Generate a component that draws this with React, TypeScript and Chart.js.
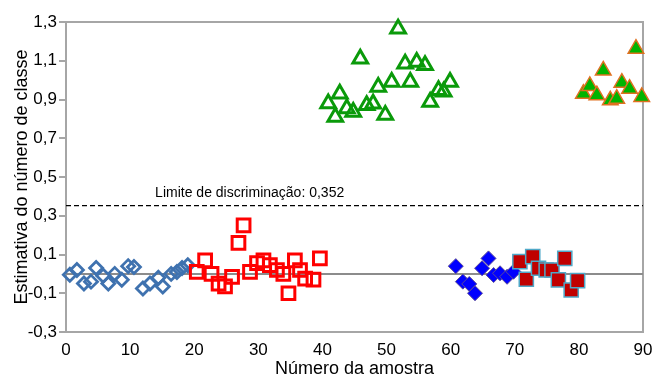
import React, { useEffect, useRef } from "react";
import { Chart, registerables } from "chart.js";

Chart.register(...registerables);

// ---- data ----
const xTickRange = [0, 90];
const yTickRange = [-0.3, 1.3];
const discriminationLimit = 0.352;
const limitLabel = "Limite de discriminação: 0,352";
const limitLabelX = 13.9;

const openDiamondX = [0.6, 1.7, 2.8, 3.9, 4.7, 5.8, 6.6, 7.6, 8.7, 9.7, 10.6, 12.0, 13.1, 14.4, 15.1, 16.4, 17.3, 18.1, 19.0];
const openDiamondY = [-0.005, 0.02, -0.05, -0.04, 0.03, -0.01, -0.05, 0.0, -0.03, 0.04, 0.035, -0.075, -0.05, -0.02, -0.065, 0.0, 0.01, 0.03, 0.045];

const openSquareX = [20.4, 21.7, 22.7, 23.8, 24.8, 25.9, 26.9, 27.7, 28.7, 29.8, 30.8, 31.8, 32.9, 33.9, 34.7, 35.7, 36.5, 37.3, 38.6, 39.6];
const openSquareY = [0.01, 0.07, 0.0, -0.05, -0.065, -0.015, 0.16, 0.25, 0.01, 0.055, 0.07, 0.045, 0.02, 0.0, -0.1, 0.07, 0.02, -0.025, -0.03, 0.08];

const openTriangleX = [40.9, 42.0, 42.7, 43.8, 44.8, 45.9, 46.9, 47.9, 48.7, 49.8, 50.8, 51.8, 52.9, 53.7, 54.7, 56.0, 56.8, 58.1, 58.9, 59.9];
const openTriangleY = [0.88, 0.81, 0.93, 0.853, 0.836, 1.11, 0.87, 0.878, 0.965, 0.82, 0.99, 1.265, 1.085, 0.99, 1.094, 1.077, 0.887, 0.948, 0.94, 0.99];

const filledDiamondX = [60.8, 61.9, 62.9, 63.8, 64.9, 65.9, 66.7, 67.7, 68.8, 69.8];
const filledDiamondY = [0.04, -0.04, -0.052, -0.1, 0.029, 0.08, -0.006, 0.003, -0.015, 0.011];

const filledSquareX = [70.8, 71.8, 72.8, 73.7, 74.9, 75.8, 76.8, 77.8, 78.8, 79.8];
const filledSquareY = [0.063, -0.028, 0.089, 0.029, 0.02, 0.02, -0.031, 0.08, -0.083, -0.035];

const filledTriangleX = [80.7, 81.7, 82.8, 83.8, 84.9, 85.9, 86.7, 87.9, 88.9, 89.8];
const filledTriangleY = [0.93, 0.97, 0.922, 1.05, 0.896, 0.904, 0.987, 0.956, 1.162, 0.913];

const xTitle = "Número da amostra";
const yTitle = "Estimativa do número de classe";

const FONT = "'Liberation Sans', Arial, sans-serif";

const zip = (xs: number[], ys: number[]) => xs.map((x, i) => ({ x, y: ys[i] }));

export default function App() {
  const ref = useRef<HTMLCanvasElement | null>(null);

  useEffect(() => {
    document.body.style.margin = "0";
    const canvas = ref.current;
    if (!canvas) return;

    const framePlugin = {
      id: "frame",
      beforeDatasetsDraw(chart: any) {
        const { ctx, chartArea } = chart;
        ctx.save();
        ctx.strokeStyle = "#a6a6a6";
        ctx.lineWidth = 2;
        ctx.strokeRect(chartArea.left, chartArea.top, chartArea.right - chartArea.left, chartArea.bottom - chartArea.top);
        ctx.restore();
      },
      afterDatasetsDraw(chart: any) {
        const { ctx, scales, chartArea } = chart;
        const px = scales.x.getPixelForValue(limitLabelX);
        const py = scales.y.getPixelForValue(discriminationLimit);
        ctx.save();
        ctx.fillStyle = "#000";
        ctx.font = `14px ${FONT}`;
        ctx.textAlign = "left";
        ctx.textBaseline = "alphabetic";
        ctx.fillText(limitLabel, px, py - 9);
        // x-axis title
        ctx.font = `18px ${FONT}`;
        ctx.textAlign = "center";
        ctx.textBaseline = "alphabetic";
        ctx.fillText(xTitle, (chartArea.left + chartArea.right) / 2, chartArea.bottom + 42);
        ctx.restore();
      },
    };

    const chart = new Chart(canvas, {
      type: "scatter",
      data: {
        datasets: [
          {
            type: "line",
            data: zip(xTickRange, [0, 0]),
            borderColor: "#8c8c8c",
            borderWidth: 2,
            pointRadius: 0,
            order: 100,
            clip: false,
          } as any,
          {
            type: "line",
            data: zip(xTickRange, [discriminationLimit, discriminationLimit]),
            borderColor: "#000",
            borderWidth: 1.2,
            borderDash: [5, 3],
            pointRadius: 0,
            order: 99,
          } as any,
          {
            data: zip(openDiamondX, openDiamondY),
            pointStyle: "rectRot",
            pointRadius: 6.5,
            pointBorderWidth: 2.8,
            borderColor: "#3f72af",
            backgroundColor: "rgba(255,255,255,0)",
            order: 6,
            clip: false,
          } as any,
          {
            data: zip(openSquareX, openSquareY),
            pointStyle: "rect",
            pointRadius: 9,
            pointBorderWidth: 3,
            borderColor: "#ff0000",
            backgroundColor: "rgba(255,255,255,0)",
            order: 5,
            clip: false,
          } as any,
          {
            data: zip(openTriangleX, openTriangleY),
            pointStyle: "triangle",
            pointRadius: 8.5,
            pointBorderWidth: 3,
            borderColor: "#0a9a0a",
            backgroundColor: "rgba(255,255,255,0)",
            order: 4,
            clip: false,
          } as any,
          {
            data: zip(filledDiamondX, filledDiamondY),
            pointStyle: "rectRot",
            pointRadius: 7.5,
            pointBorderWidth: 1,
            borderColor: "#5a4a9a",
            backgroundColor: "#0000ff",
            order: 3,
            clip: false,
          } as any,
          {
            data: zip(filledSquareX, filledSquareY),
            pointStyle: "rect",
            pointRadius: 10,
            pointBorderWidth: 1.5,
            borderColor: "#4fa8c8",
            backgroundColor: "#c00000",
            order: 2,
            clip: false,
          } as any,
          {
            data: zip(filledTriangleX, filledTriangleY),
            pointStyle: "triangle",
            pointRadius: 9,
            pointBorderWidth: 1.5,
            borderColor: "#e07020",
            backgroundColor: "#00b400",
            order: 1,
            clip: false,
          } as any,
        ],
      },
      options: {
        animation: false,
        responsive: true,
        maintainAspectRatio: false,
        layout: { autoPadding: false, padding: { top: 22, right: 14, left: 0, bottom: 0 } },
        plugins: { legend: { display: false }, tooltip: { enabled: false } },
        scales: {
          x: {
            type: "linear",
            min: xTickRange[0],
            max: xTickRange[1],
            afterFit(scale: any) {
              scale.height = 43;
              scale.paddingLeft = 0;
              scale.paddingRight = 0;
            },
            ticks: {
              stepSize: 10,
              color: "#000",
              font: { family: FONT, size: 17 },
              padding: 8,
              maxRotation: 0,
            },
            grid: { display: false, drawTicks: false },
            border: { display: true, color: "#a6a6a6", width: 2 },
            title: { display: false },
          },
          y: {
            type: "linear",
            min: yTickRange[0],
            max: yTickRange[1],
            afterFit(scale: any) {
              scale.width = 66;
              scale.paddingTop = 0;
              scale.paddingBottom = 0;
            },
            ticks: {
              stepSize: 0.2,
              color: "#000",
              font: { family: FONT, size: 17 },
              padding: 2,
              callback: (v: any) => Number(v).toFixed(1).replace(".", ","),
            },
            grid: {
              display: true,
              drawOnChartArea: false,
              drawTicks: true,
              tickLength: 7,
              color: "#a6a6a6",
              lineWidth: 2,
            },
            border: { display: true, color: "#a6a6a6", width: 2 },
            title: {
              display: true,
              text: yTitle,
              color: "#000",
              font: { family: FONT, size: 18 },
              padding: { top: 11, bottom: 0 },
            },
          },
        },
      },
      plugins: [framePlugin],
    } as any);

    return () => chart.destroy();
  }, []);

  return (
    <div style={{ width: 657, height: 375, position: "relative" }}>
      <canvas ref={ref} />
    </div>
  );
}
